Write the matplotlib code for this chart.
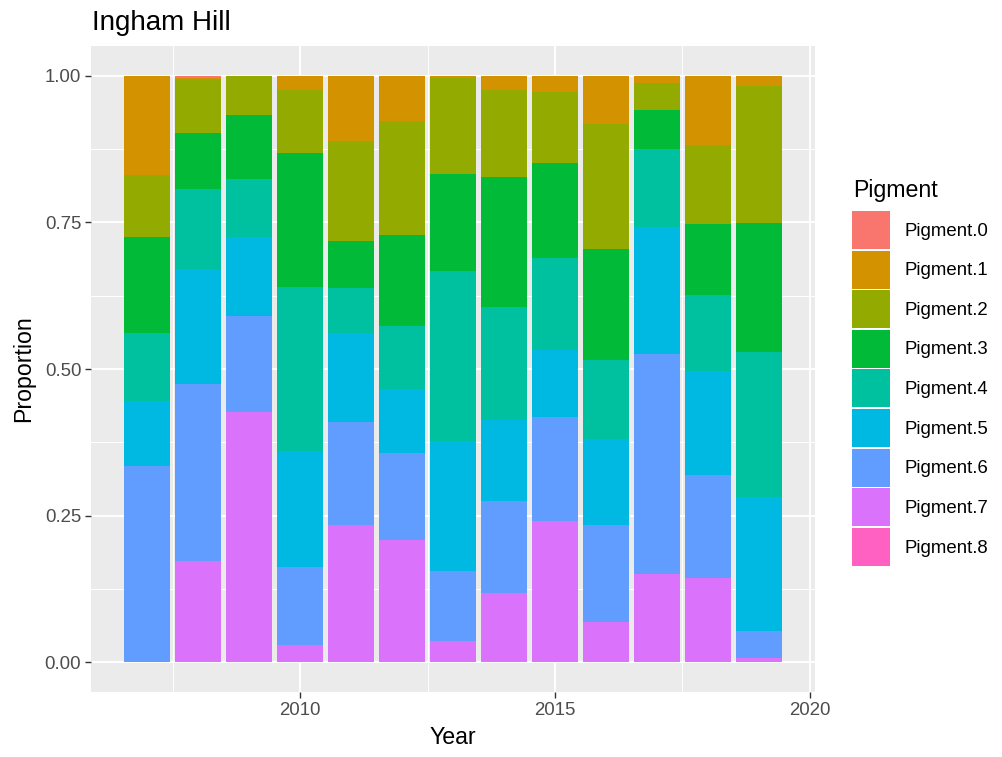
import matplotlib
matplotlib.use("Agg")
import matplotlib.pyplot as plt
from matplotlib.patches import Patch
from matplotlib.ticker import MultipleLocator
import numpy as np

plt.rcParams['font.family'] = ['Liberation Sans', 'DejaVu Sans']

years = [2007, 2008, 2009, 2010, 2011, 2012, 2013, 2014, 2015, 2016, 2017, 2018, 2019]
pigments = ["Pigment.0", "Pigment.1", "Pigment.2", "Pigment.3", "Pigment.4",
            "Pigment.5", "Pigment.6", "Pigment.7", "Pigment.8"]

pigment_0 = [0, 0.003, 0, 0, 0, 0, 0, 0, 0, 0, 0, 0, 0]
pigment_1 = [0.169, 0.003, 0, 0.024, 0.111, 0.077, 0.003, 0.024, 0.027, 0.082, 0.012, 0.118, 0.017]
pigment_2 = [0.105, 0.091, 0.067, 0.107, 0.171, 0.194, 0.164, 0.148, 0.121, 0.213, 0.046, 0.135, 0.234]
pigment_3 = [0.165, 0.096, 0.109, 0.229, 0.080, 0.156, 0.166, 0.222, 0.163, 0.190, 0.067, 0.121, 0.220]
pigment_4 = [0.116, 0.137, 0.099, 0.280, 0.077, 0.107, 0.290, 0.193, 0.157, 0.134, 0.133, 0.129, 0.247]
pigment_5 = [0.111, 0.196, 0.135, 0.198, 0.151, 0.109, 0.222, 0.138, 0.114, 0.147, 0.216, 0.178, 0.229]
pigment_6 = [0.334, 0.302, 0.163, 0.133, 0.176, 0.149, 0.119, 0.157, 0.177, 0.166, 0.376, 0.176, 0.046]
pigment_7 = [0, 0.172, 0.427, 0.029, 0.234, 0.208, 0.036, 0.118, 0.241, 0.068, 0.150, 0.143, 0.007]
pigment_8 = [0, 0, 0, 0, 0, 0, 0, 0, 0, 0, 0, 0, 0]

series = [pigment_0, pigment_1, pigment_2, pigment_3, pigment_4,
          pigment_5, pigment_6, pigment_7, pigment_8]
colors = ["#F8766D", "#D39200", "#93AA00", "#00BA38", "#00C19F",
          "#00B9E3", "#619CFF", "#DB72FB", "#FF61C3"]

W, H = 1003, 757
fig = plt.figure(figsize=(W / 100, H / 100), dpi=100)
ax = fig.add_axes([91 / W, 1 - 692 / H, (815 - 91) / W, (692 - 46) / H])
ax.set_facecolor("#EBEBEB")
for s in ax.spines.values():
    s.set_visible(False)

# grid (under bars)
ax.set_axisbelow(True)
ax.xaxis.set_major_locator(MultipleLocator(5))
ax.xaxis.set_minor_locator(MultipleLocator(2.5))
ax.yaxis.set_major_locator(MultipleLocator(0.25))
ax.yaxis.set_minor_locator(MultipleLocator(0.125))
ax.grid(which="major", color="white", linewidth=1.4)
ax.grid(which="minor", color="white", linewidth=0.7)

# stacked bars: last pigment at the bottom
x = np.array(years)
bottom = np.zeros(len(years))
for name, vals, col in reversed(list(zip(pigments, series, colors))):
    v = np.array(vals)
    ax.bar(x, v, bottom=bottom, width=0.9, color=col, linewidth=0)
    bottom += v

ax.set_xlim(2005.9, 2020.1)
ax.set_ylim(-0.051, 1.051)
ax.set_xticks([2010, 2015, 2020])
ax.set_xticklabels(["2010", "2015", "2020"])
ax.set_yticks([0, 0.25, 0.5, 0.75, 1.0])
ax.set_yticklabels(["0.00", "0.25", "0.50", "0.75", "1.00"])
ax.tick_params(which="major", length=4, width=1.0, color="#333333",
               labelsize=13.4, labelcolor="#4D4D4D", pad=3)
ax.tick_params(which="minor", length=0)

ax.set_xlabel("Year", fontsize=16.7, color="black", labelpad=5)
ax.set_ylabel("Proportion", fontsize=16.7, color="black", labelpad=7)

fig.text(92 / W, 1 - 30 / H, "Ingham Hill", fontsize=20, color="black",
         ha="left", va="baseline")

# legend: title set separately for ggplot-like spacing above the keys
fig.text(853 / W, 1 - 197 / H, "Pigment", fontsize=16.7, color="black",
         ha="left", va="baseline")
handles = [Patch(facecolor=c, edgecolor="none") for c in colors]
leg = fig.legend(handles, pigments, loc="upper left",
                 bbox_to_anchor=(852 / W, 1 - 211 / H),
                 frameon=False, fontsize=13.4,
                 handlelength=2.05, handleheight=2.76, labelspacing=0.09,
                 handletextpad=0.75, borderpad=0, borderaxespad=0)

fig.savefig("out.png", dpi=100)
